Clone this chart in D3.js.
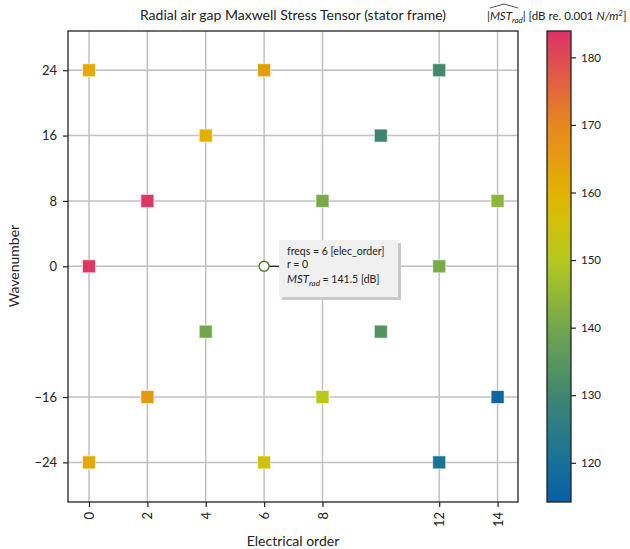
<!DOCTYPE html>
<html><head><meta charset="utf-8">
<script src="https://cdn.jsdelivr.net/npm/d3@7"></script>
<style>body{margin:0;background:#fff;} text{font-family:Lato,"Noto Sans",sans-serif;fill:#222;}</style>
</head><body><svg id="c" width="630" height="549"></svg>
<script>
const elecOrder  = [0, 6, 12, 4, 10, 2, 8, 14, 0, 6, 12, 4, 10, 2, 8, 14, 0, 6, 12];
const wavenumber = [24, 24, 24, 16, 16, 8, 8, 8, 0, 0, 0, -8, -8, -16, -16, -16, -24, -24, -24];
const magnitude  = [162, 165, 131, 161, 130, 183, 141, 144, 183, 141.5, 141, 140, 134, 166, 151, 117, 162, 155, 121];
const xTicks = [0, 2, 4, 6, 8, 12, 14];
const yTicks = [24, 16, 8, 0, -16, -24];
const cbTicks = [120, 130, 140, 150, 160, 170, 180];
const hover = {freq: 6, r: 0, val: 141.5};

const svg = d3.select("#c");
const L = 68, R = 518, T = 31, B = 502;
const x = d3.scaleLinear().domain([-0.72, 14.7]).range([L, R]);
const y = d3.scaleLinear().domain([-28.85, 28.8]).range([B, T]);
const vmin = 114.2, vmax = 183.9;
const stops = [[0,"#0a5ea4"],[0.083,"#16709a"],[0.227,"#3f8670"],[0.37,"#72a64e"],[0.514,"#b5c91e"],[0.6,"#d3c00a"],[0.657,"#e2b300"],[0.8,"#e6881e"],[0.944,"#df4a55"],[1,"#df3068"]];
const cmap = d3.scaleLinear().domain(stops.map(s=>vmin+s[0]*(vmax-vmin))).range(stops.map(s=>s[1])).interpolate(d3.interpolateRgb).clamp(true);

// grid
const g = svg.append("g");
g.selectAll(".gx").data(xTicks).join("line").attr("x1",d=>x(d)).attr("x2",d=>x(d)).attr("y1",T).attr("y2",B).attr("stroke","#c0c0c0").attr("stroke-width",1.5);
g.selectAll(".gy").data(yTicks).join("line").attr("y1",d=>y(d)).attr("y2",d=>y(d)).attr("x1",L).attr("x2",R).attr("stroke","#c0c0c0").attr("stroke-width",1.5);

// axes
const xa = svg.append("g").attr("transform",`translate(0,${B})`).call(d3.axisBottom(x).tickValues(xTicks).tickSize(5).tickPadding(6));
xa.select(".domain").remove();
xa.selectAll(".tick line").attr("stroke","#222").attr("stroke-width",1.2);
xa.selectAll(".tick text").attr("transform","rotate(-90)").attr("text-anchor","end").attr("dy","0.35em").attr("x",-10).attr("y",0).style("font-size","13px").attr("fill","#222");
const ya = svg.append("g").attr("transform",`translate(${L},0)`).call(d3.axisLeft(y).tickValues(yTicks).tickSize(5).tickPadding(6).tickFormat(d=>d<0?"\u2212"+(-d):d));
ya.select(".domain").remove();
ya.selectAll(".tick line").attr("stroke","#222").attr("stroke-width",1.2);
ya.selectAll(".tick text").style("font-size","13px").attr("fill","#222");

// markers
const pts = elecOrder.map((e,i)=>({x:e,y:wavenumber[i],v:magnitude[i]})).filter(d=>!(d.x===hover.freq&&d.y===hover.r));
svg.append("g").selectAll("rect").data(pts).join("rect")
  .attr("x",d=>x(d.x)-6.5).attr("y",d=>y(d.y)-6.5).attr("width",13).attr("height",13)
  .attr("fill",d=>cmap(d.v)).attr("stroke","rgba(255,255,255,0.6)").attr("stroke-width",1);

// frame
svg.append("rect").attr("x",L).attr("y",T).attr("width",R-L).attr("height",B-T).attr("fill","none").attr("stroke","#222").attr("stroke-width",1.3);

// hover annotation
const hx = x(hover.freq), hy = y(hover.r);
svg.append("line").attr("x1",hx+5).attr("x2",279).attr("y1",hy).attr("y2",hy).attr("stroke","#222").attr("stroke-width",1.2);
svg.append("circle").attr("cx",hx).attr("cy",hy).attr("r",5).attr("fill","#fff").attr("stroke","#4f7a2a").attr("stroke-width",1.5);
svg.append("rect").attr("x",282).attr("y",243).attr("width",119).attr("height",57).attr("fill","#c8c8c8");
svg.append("rect").attr("x",279).attr("y",240).attr("width",119).attr("height",57).attr("fill","#f0f0f0");
const tt = svg.append("g").style("font-size","10.5px");
tt.append("text").attr("x",287).attr("y",255).text(`freqs = ${hover.freq} [elec_order]`);
tt.append("text").attr("x",287).attr("y",268).text(`r = ${hover.r}`);
const t3 = tt.append("text").attr("x",287).attr("y",283);
t3.append("tspan").attr("font-style","italic").style("font-size","11.5px").text("MST");
t3.append("tspan").attr("font-style","italic").attr("dy",3).style("font-size","8px").text("rad");
t3.append("tspan").attr("dy",-3).text(` = ${hover.val} [dB]`);

// titles
svg.append("text").attr("x",293).attr("y",20).attr("text-anchor","middle").style("font-size","14px").text("Radial air gap Maxwell Stress Tensor (stator frame)");
svg.append("text").attr("x",293).attr("y",546).attr("text-anchor","middle").style("font-size","14px").text("Electrical order");
svg.append("text").attr("transform","translate(19,266) rotate(-90)").attr("text-anchor","middle").style("font-size","14px").text("Wavenumber");

// colorbar
const CL = 547, CR = 571;
const grad = svg.append("defs").append("linearGradient").attr("id","cb").attr("x1",0).attr("x2",0).attr("y1",1).attr("y2",0);
d3.range(0,1.0001,0.02).forEach(t=>grad.append("stop").attr("offset",t).attr("stop-color",cmap(vmin+t*(vmax-vmin))));
const cy = d3.scaleLinear().domain([vmin,vmax]).range([B,T]);
svg.append("rect").attr("x",CL).attr("y",T).attr("width",CR-CL).attr("height",B-T).attr("fill","url(#cb)").attr("stroke","#222").attr("stroke-width",1.3);
const ca = svg.append("g").attr("transform",`translate(${CR},0)`).call(d3.axisRight(cy).tickValues(cbTicks).tickSize(5).tickPadding(5));
ca.select(".domain").remove();
ca.selectAll(".tick line").attr("stroke","#222").attr("stroke-width",1.2);
ca.selectAll(".tick text").style("font-size","11.5px").attr("fill","#222");

// colorbar label
const cl = svg.append("text").attr("x",487).attr("y",20).style("font-size","11.5px");
cl.append("tspan").text("|");
cl.append("tspan").attr("font-style","italic").text("MST");
cl.append("tspan").attr("font-style","italic").attr("dy",3).style("font-size","8px").text("rad");
cl.append("tspan").attr("dy",-3).text("| [dB re. 0.001 ");
cl.append("tspan").attr("font-style","italic").text("N/m");
cl.append("tspan").attr("font-style","italic").attr("dy",-4).style("font-size","8px").text("2");
cl.append("tspan").attr("dy",4).text("]");
// hat over MST_rad
svg.append("path").attr("d","M490,8 L504,4 L518,8").attr("fill","none").attr("stroke","#222").attr("stroke-width",0.8);
</script></body></html>
